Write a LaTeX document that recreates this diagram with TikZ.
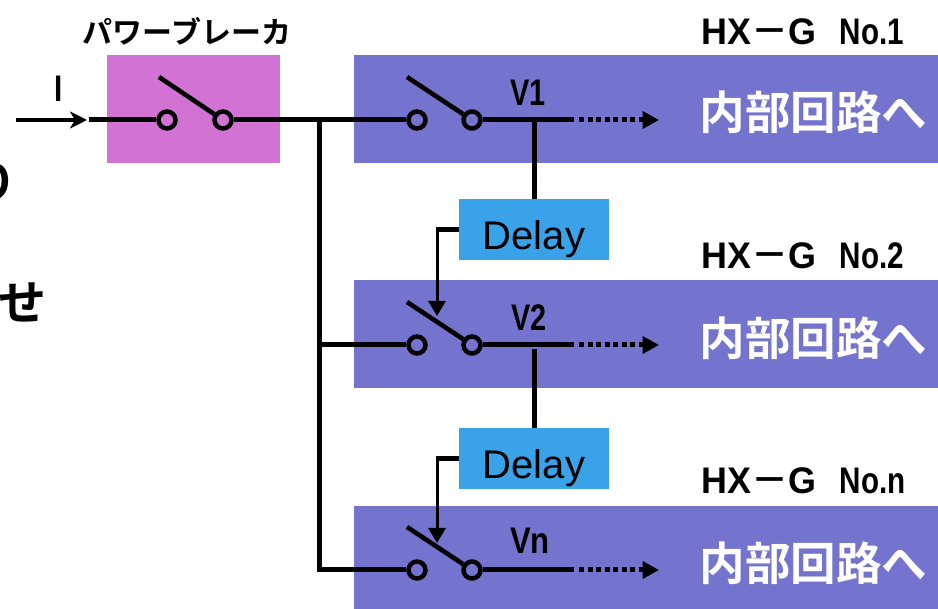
\documentclass[tikz,border=0pt]{standalone}
\usepackage{graphicx}
\usepackage{fontspec}
\setmainfont{Liberation Sans}
\newfontfamily\cjk{Noto Sans CJK JP}[BoldFont={* Bold}]
\usetikzlibrary{arrows.meta,calc}
\definecolor{purp}{HTML}{7474CF}
\definecolor{pink}{HTML}{D272D2}
\definecolor{dly}{HTML}{3AA2E8}
\newcommand{\nrw}[2][.8]{\scalebox{#1}[1]{#2}}
\newcommand{\hxtext}[1]{\nrw[.97]{HX}{\cjk\bfseries －}\nrw[.97]{G}\hspace{24pt}\nrw{No.#1}}
\tikzset{x=1pt,y=-1pt,
 wire/.style={line width=5pt,black},
 leverline/.style={line width=4.6pt,black},
 term/.style={circle,draw=black,line width=4.5pt,fill=none,minimum size=17pt,inner sep=0pt},
 band/.style={fill=purp,draw=none,anchor=north west,minimum width=584pt,minimum height=108pt,inner sep=0pt},
 delaybox/.style={fill=dly,draw=none,minimum width=150pt,minimum height=61pt,inner sep=0pt},
 delaytext/.style={inner sep=0pt,anchor=base,font=\fontsize{40}{40}\selectfont},
 hxlabel/.style={anchor=base west,inner sep=0pt,font=\bfseries\fontsize{37}{37}\selectfont},
 vlabel/.style={anchor=base,inner sep=0pt,font=\bfseries\fontsize{37}{37}\selectfont},
 inner/.style={inner sep=0pt,text=white,font=\cjk\bfseries\fontsize{45.5}{45.5}\selectfont},
 dotline/.style={line width=5pt,dash pattern=on 5pt off 3.5pt},
 arrowtip/.style={-{Triangle[length=16.5pt,width=17pt]}},
 delayarrow/.style={line width=3pt,-{Triangle[length=15pt,width=17pt]}},
 delaylead/.style={line width=4.6pt}
}
\begin{document}
\begin{tikzpicture}
\useasboundingbox (0,0) rectangle (938,609);
\node[inner sep=0pt,anchor=north west,fill=pink,minimum width=173pt,minimum height=108pt] (brk) at (107,55) {};
\node[band] (b1) at (354,55) {};
\node[band] (b2) at (354,280) {};
\node[band,minimum height=103pt] (b3) at (354,506) {};
\node[inner sep=0pt,font=\cjk\bfseries\fontsize{30}{30}\selectfont] (brklabel) at (187,31) {パワーブレーカ};
\node[vlabel] (ilabel) at (59,102) {\nrw{I}};
\coordinate (ia) at (16,120); \coordinate (ib) at (87,120);
\draw[line width=3.6pt,-{Stealth[length=17pt,width=17pt,inset=5pt]}] (ia) -- (ib);
% breaker
\coordinate (w0) at (89,120);
\node[term] (t0a) at (167,120) {};
\node[term] (t0b) at (223,120) {};
\coordinate (lever0) at (159,77);
\draw[wire] (w0) -- (t0a);
\draw[leverline] (lever0) -- (t0b);
% switches
\coordinate (bus) at (319,120);
\coordinate (bus2) at (319,345);
\coordinate (bus3) at (319,570);
\node[term] (t1a) at (417,120) {};
\node[term] (t1b) at (472,120) {};
\node[term] (t2a) at (417,345) {};
\node[term] (t2b) at (472,345) {};
\node[term] (t3a) at (417,570) {};
\node[term] (t3b) at (472,570) {};
\draw[wire] (t0b) -- (t1a);
\draw[wire] (bus) -- (bus3) -- (t3a);
\draw[wire] (bus2) -- (t2a);
\coordinate (l1) at (407,77); \coordinate (l2) at (407,302); \coordinate (l3) at (407,527);
\draw[leverline] (l1) -- (t1b);
\draw[leverline] (l2) -- (t2b);
\draw[leverline] (l3) -- (t3b);
% outputs
\coordinate (o1) at (574,120); \coordinate (o2) at (574,345); \coordinate (o3) at (574,570);
\coordinate (e1) at (659,120); \coordinate (e2) at (659,345); \coordinate (e3) at (659,570);
\draw[wire] (t1b) -- (o1);
\draw[wire] (t2b) -- (o2);
\draw[wire] (t3b) -- (o3);
\draw[dotline,arrowtip] ($(o1)+(5,0)$) -- (e1);
\draw[dotline,arrowtip] ($(o2)+(5,0)$) -- (e2);
\draw[dotline,arrowtip] ($(o3)+(5,0)$) -- (e3);
% delays
\node[delaybox] (d1) at (534,229.5) {};
\node[delaybox] (d2) at (534,458.5) {};
\node[delaytext] (dt1) at (534,250) {Delay};
\node[delaytext] (dt2) at (534,479) {Delay};
\coordinate (j1) at (534,120); \coordinate (j2) at (534,349);
\draw[wire] (j1) -- (d1.north);
\draw[wire] (j2) -- (d2.north);
\coordinate (k1) at (437,229.5); \coordinate (k2) at (437,458.5);
\coordinate (p1) at (437,316); \coordinate (p2) at (437,543);
\draw[delaylead] (d1.west) -- ($(k1)+(-1.5,0)$);
\draw[delaylead] (d2.west) -- ($(k2)+(-1.5,0)$);
\draw[delayarrow] ($(k1)+(0,-2.3)$) -- (p1);
\draw[delayarrow] ($(k2)+(0,-2.3)$) -- (p2);
% labels
\node[vlabel] (v1) at (528,106) {\nrw[.78]{V1}};
\node[vlabel] (v2) at (529,331) {\nrw[.78]{V2}};
\node[vlabel] (v3) at (530,554) {\nrw[.84]{Vn}};
\node[inner] (in1) at (813.5,112) {内部回路へ};
\node[inner] (in2) at (813.5,338) {内部回路へ};
\node[inner] (in3) at (813.5,563) {内部回路へ};
\node[hxlabel] (h1) at (701,45) {\hxtext{1}};
\node[hxlabel] (h2) at (701,269) {\hxtext{2}};
\node[hxlabel] (h3) at (701,494) {\hxtext{n}};
% text cut off by the picture's left edge
\begin{scope}
\clip (0,0) rectangle (938,609);
\node[inner sep=0pt,font=\cjk\bfseries\fontsize{48}{48}\selectfont,anchor=east] (cut1) at (18,183) {り};
\node[inner sep=0pt,font=\cjk\bfseries\fontsize{48}{48}\selectfont,anchor=east] (cut2) at (47,302) {せ};
\end{scope}
\end{tikzpicture}
\end{document}
